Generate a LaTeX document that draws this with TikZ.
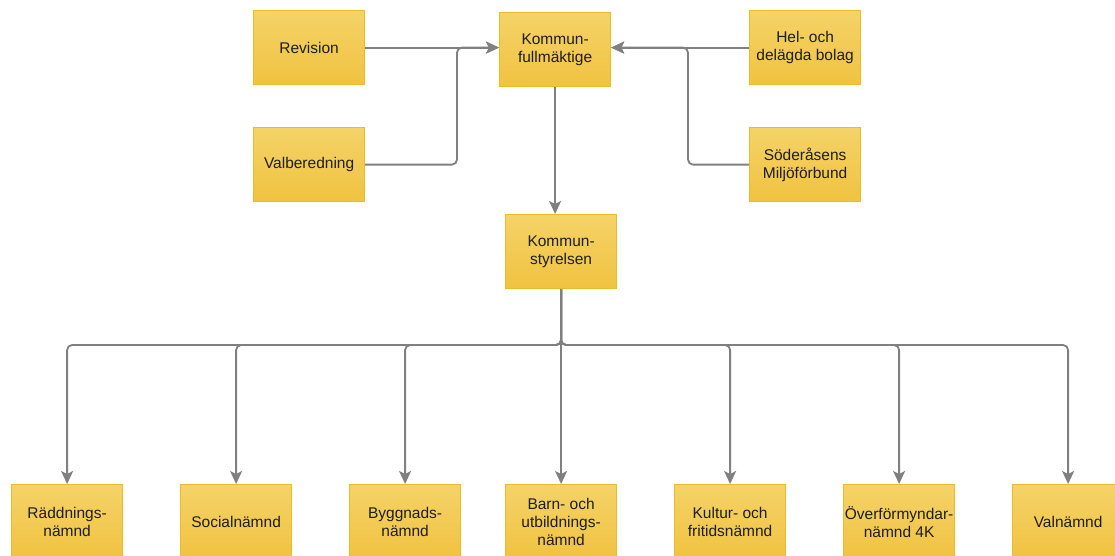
\documentclass[tikz,border=0pt]{standalone}
\usepackage{fontspec}
\setmainfont{Liberation Sans}
\usetikzlibrary{arrows.meta}
\definecolor{boxtop}{RGB}{245,211,104}
\definecolor{boxbot}{RGB}{240,194,64}
\definecolor{boxline}{RGB}{236,188,40}
\definecolor{conn}{RGB}{128,128,128}
\definecolor{txt}{RGB}{30,30,30}
\begin{document}
\begin{tikzpicture}[x=1pt,y=-1pt,
  orgbox/.style={draw=boxline, line width=1.2pt, top color=boxtop, bottom color=boxbot,
    minimum width=111pt, minimum height=74pt, inner sep=0pt, align=center,
    text=txt, font=\fontsize{15.5}{18}\selectfont, anchor=north west},
  conn/.style={draw=conn, line width=1.8pt, rounded corners=5pt,
    -{Stealth[length=13pt,width=12pt,inset=3pt]}}]
\useasboundingbox (0,0) rectangle (1115,555);
\fill[white] (0,0) rectangle (1115,555);
\node[orgbox] (rev) at (253,10) {Revision};
\node[orgbox] (val) at (253,127) {Valberedning};
\node[orgbox] (kf) at (499,12) {Kommun-\\fullmäktige};
\node[orgbox] (hel) at (749,10) {Hel- och\\delägda bolag};
\node[orgbox] (sod) at (749,127) {Söderåsens\\Miljöförbund};
\node[orgbox] (ks) at (505,214) {Kommun-\\styrelsen};
\node[orgbox] (b1) at (11,484) {Räddnings-\\nämnd};
\node[orgbox] (b2) at (180,484) {Socialnämnd};
\node[orgbox] (b3) at (349,484) {Byggnads-\\nämnd};
\node[orgbox] (b4) at (505,484) {Barn- och\\utbildnings-\\nämnd};
\node[orgbox] (b5) at (674,484) {Kultur- och\\fritidsnämnd};
\node[orgbox] (b6) at (843,484) {Överförmyndar-\\nämnd 4K};
\node[orgbox] (b7) at (1012,484) {Valnämnd};
\coordinate (vx) at (457,0);
\coordinate (sx) at (688,0);
\coordinate (bus) at (0,345);
% top connectors
\draw[conn] (rev.east) -- (rev.east -| kf.west);
\draw[conn] (val.east) -- (val.east -| vx) -- (vx |- rev.east) -- (rev.east -| kf.west);
\draw[conn] (hel.west) -- (hel.west -| kf.east);
\draw[conn] (sod.west) -- (sod.west -| sx) -- (sx |- hel.west) -- (hel.west -| kf.east);
\draw[conn] (kf.south) -- (kf.south |- ks.north);
% bottom connectors
\foreach \b in {b1,b2,b3,b4,b5,b6,b7}{
  \draw[conn] (ks.south) -- (ks.south |- bus) -- (\b.north |- bus) -- (\b.north);
}
\end{tikzpicture}
\end{document}
